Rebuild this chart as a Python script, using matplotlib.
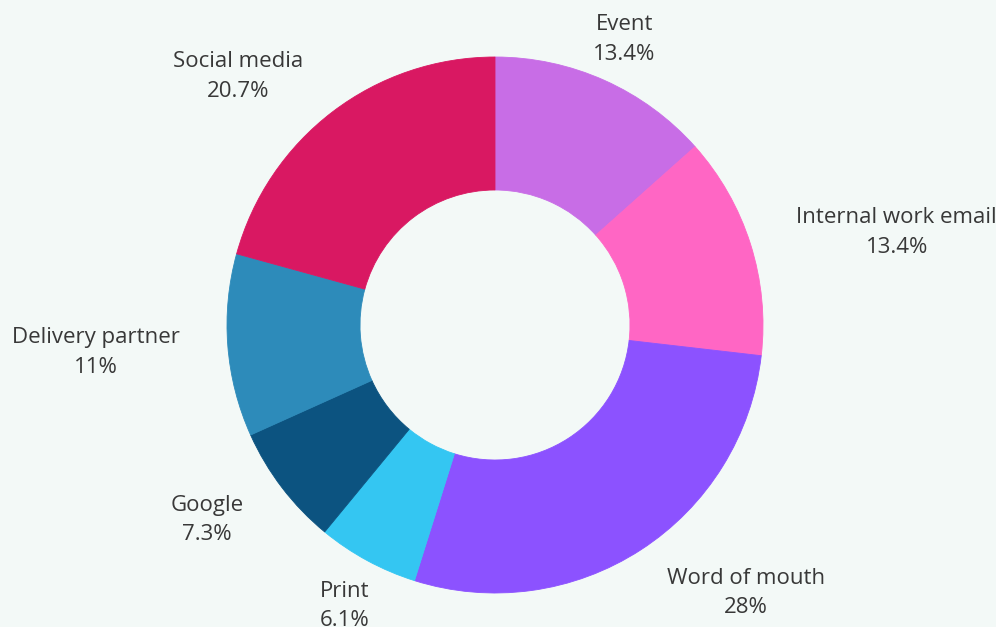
import numpy as np
import matplotlib
matplotlib.use("Agg")
import matplotlib.pyplot as plt

categories = ["Event", "Internal work email", "Word of mouth", "Print",
              "Google", "Delivery partner", "Social media"]
shares = [13.4, 13.4, 28, 6.1, 7.3, 11, 20.7]
share_labels = ["13.4%", "13.4%", "28%", "6.1%", "7.3%", "11%", "20.7%"]
colors = ["#C86DE6", "#FF66C4", "#8C52FF", "#34C6F2",
          "#0C5380", "#2D8BBA", "#D91862"]

bg = "#F3F9F7"
W, H = 996, 627
fig = plt.figure(figsize=(W / 100, H / 100), dpi=100, facecolor=bg)
ax = fig.add_axes([0, 0, 1, 1])
ax.set_facecolor(bg)

cx, cy = 495, 302
R, r_in = 268, 135

wedges, _ = ax.pie(shares, colors=colors, startangle=90, counterclock=False,
                   center=(cx, cy), radius=R, frame=True,
                   wedgeprops=dict(width=R - r_in, linewidth=0.6,
                                   antialiased=True))
for w, c in zip(wedges, colors):
    w.set_edgecolor(c)
ax.set_xlim(0, W)
ax.set_ylim(0, H)
ax.set_aspect("equal")
ax.axis("off")

# labels sit just outside the ring, nudged slightly downward
label_r = R * 1.18
for w, name, pct in zip(wedges, categories, share_labels):
    mid = np.deg2rad((w.theta1 + w.theta2) / 2)
    x = cx + label_r * np.cos(mid)
    y = cy + label_r * np.sin(mid) - 3
    c = np.cos(mid)
    if abs(c) < 0.5:
        ha = "center"
    elif c > 0:
        ha = "left"
    else:
        ha = "right"
    ax.text(x, y, f"{name}\n{pct}", ha=ha, va="center", multialignment="center",
            fontsize=16, family="Open Sans", color="#383838", linespacing=1.52)

fig.savefig("out.png", dpi=100, facecolor=bg)
